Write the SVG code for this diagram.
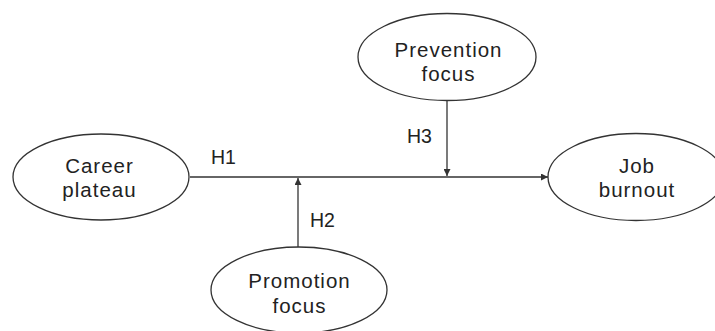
<svg xmlns="http://www.w3.org/2000/svg" width="715" height="331" viewBox="0 0 715 331">
<style>
.node ellipse{fill:#fff;stroke:#333;stroke-width:1.3}
.lbl{font-family:"Liberation Sans",Arial,sans-serif;font-size:20.5px;letter-spacing:1px;fill:#222;text-anchor:middle}
.h{font-family:"Liberation Sans",Arial,sans-serif;font-size:19.5px;fill:#222}
.edge{stroke:#333;stroke-width:1.3;fill:none}
</style>
<defs>
<marker id="arr" viewBox="0 0 10 10" refX="10" refY="5" markerWidth="9" markerHeight="7" markerUnits="userSpaceOnUse" orient="auto">
<path d="M0,0 L10,5 L0,10 z" fill="#333"/>
</marker>
</defs>
<rect width="715" height="331" fill="#fff"/>
<g id="connectors">
<line class="edge" x1="190" y1="177" x2="548" y2="177" marker-end="url(#arr)"/>
<line class="edge" x1="298" y1="247" x2="298" y2="178" marker-end="url(#arr)"/>
<line class="edge" x1="447" y1="100" x2="447" y2="176" marker-end="url(#arr)"/>
<text class="h" x="211" y="164">H1</text>
<text class="h" x="310" y="227">H2</text>
<text class="h" x="407" y="143">H3</text>
</g>
<g id="career" class="node">
<ellipse cx="101" cy="177" rx="88" ry="43"/>
<text class="lbl" x="99.5" y="173">Career</text>
<text class="lbl" x="99.5" y="197">plateau</text>
</g>
<g id="burnout" class="node">
<ellipse cx="636" cy="177" rx="88" ry="43.5"/>
<text class="lbl" x="637" y="173">Job</text>
<text class="lbl" x="637" y="197">burnout</text>
</g>
<g id="prevention" class="node">
<ellipse cx="447" cy="57" rx="89" ry="43.5"/>
<text class="lbl" x="448.5" y="57">Prevention</text>
<text class="lbl" x="448.5" y="81">focus</text>
</g>
<g id="promotion" class="node">
<ellipse cx="299" cy="290" rx="88" ry="43"/>
<text class="lbl" x="299.5" y="288">Promotion</text>
<text class="lbl" x="299.5" y="313">focus</text>
</g>
</svg>
